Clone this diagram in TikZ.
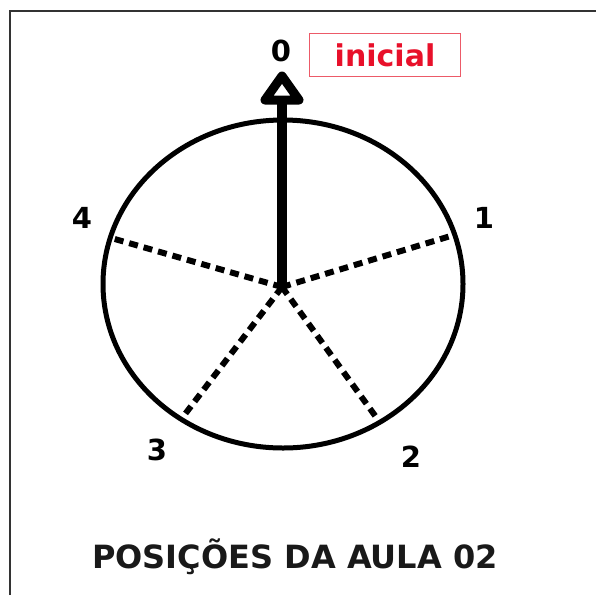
\documentclass[tikz,border=0pt]{standalone}
\usepackage{fontspec}
\setmainfont{DejaVu Sans}
\usetikzlibrary{shapes.geometric}
\definecolor{tagred}{HTML}{E8102A}
\definecolor{tagframe}{HTML}{EC5A68}
\definecolor{framegray}{HTML}{333333}
\tikzset{
  dialline/.style={line width=5pt, draw=black},
  spoke/.style={line width=6pt, dash pattern=on 9pt off 6pt, draw=black},
  pointer/.style={line width=10pt, draw=black},
  numlabel/.style={inner sep=0pt, font=\bfseries\fontsize{29}{34}\selectfont},
}
\begin{document}
\begin{tikzpicture}[x=1pt, y=-1pt]
\useasboundingbox (0,0) rectangle (596,595);
\fill[white] (0,0) rectangle (596,595);
% frame (top and left only)
\draw[framegray, line width=2pt] (9.5,595) -- (9.5,11) -- (596,11);
% dial
\node[ellipse, dialline, minimum width=360pt, minimum height=328pt, inner sep=0pt, outer sep=0pt] (dial) at (283,284) {};
\coordinate (c) at (282,287);
% spokes
\draw[spoke] (c) -- (dial.16);
\draw[spoke] (c) -- (dial.-55);
\draw[spoke] (c) -- (dial.-127.5);
\draw[spoke] (c) -- (dial.165);
% pointer
\coordinate (base) at (282,99);
\draw[pointer] (c) -- (base);
\draw[line width=9pt, line join=round] (282,76) -- (265,100) -- (299,100) -- cycle;
% labels
\node[numlabel] (l0) at (281,51) {0};
\node[numlabel] (l1) at (484,218) {1};
\node[numlabel] (l2) at (411,457) {2};
\node[numlabel] (l3) at (157,450) {3};
\node[numlabel] (l4) at (82,218) {4};
\node[draw=tagframe, line width=1.5pt, minimum width=151pt, minimum height=43pt, inner sep=0pt,
      text=tagred, font=\bfseries\fontsize{30}{34}\selectfont] (tag) at (385,55) {inicial};
\node[anchor=base, inner sep=0pt, text=black!90, font=\bfseries\fontsize{32}{38}\selectfont] (title) at (295,568) {POSIÇÕES DA AULA 02};
\end{tikzpicture}
\end{document}
